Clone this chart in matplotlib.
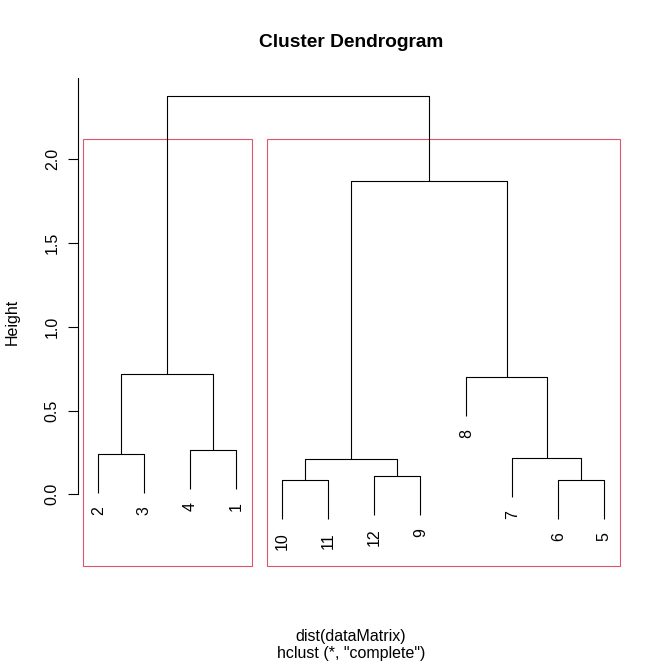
import matplotlib
matplotlib.use("Agg")
import matplotlib.pyplot as plt
import matplotlib.transforms as mtransforms
from matplotlib.patches import Rectangle

plt.rcParams["font.family"] = ["Liberation Sans", "DejaVu Sans"]

# Leaf labels in plotting order (left to right)
leaf_order = [2, 3, 4, 1, 10, 11, 12, 9, 8, 7, 6, 5]

# Merges in R hclust style: negative = observation, positive = earlier merge step
merge_a = [-10, -6, -12, 1, -7, -2, -4, -8, 6, 4, 9]
merge_b = [-11, -5, -9, 3, 2, -3, -1, 5, 7, 8, 10]
merge_height = [0.084, 0.084, 0.107, 0.209, 0.215, 0.239, 0.263, 0.698, 0.718, 1.869, 2.378]

y_ticks = [0.0, 0.5, 1.0, 1.5, 2.0]
n_clusters = 2

RED = "#DF536B"
LW = 0.8
DPI = 100
px = 72.0 / DPI  # points per pixel

fig = plt.figure(figsize=(6.64, 6.64), dpi=DPI)
ax = fig.add_axes([78.1 / 664, 1 - 566 / 664, 546.5 / 664, (566 - 78.3) / 664])

# x positions of leaves and merges
leaf_x = {obs: i + 1 for i, obs in enumerate(leaf_order)}
hang = 0.1 * (max(merge_height) - min(merge_height))

node_x = {}
node_size = {}


def child_pos(c, h):
    if c < 0:
        return leaf_x[-c], h - hang
    return node_x[c], merge_height[c - 1]


def child_size(c):
    return 1 if c < 0 else node_size[c]


label_offset = mtransforms.offset_copy(ax.transData, fig=fig, y=-13.3 * px, units="points")

for step, (a, b, h) in enumerate(zip(merge_a, merge_b, merge_height), start=1):
    xa, ya = child_pos(a, h)
    xb, yb = child_pos(b, h)
    ax.plot([xa, xa, xb, xb], [ya, h, h, yb], color="black", lw=LW,
            solid_capstyle="butt", clip_on=False)
    node_x[step] = (xa + xb) / 2
    node_size[step] = child_size(a) + child_size(b)
    for c, xc, yc in ((a, xa, ya), (b, xb, yb)):
        if c < 0:
            ax.text(xc, yc, str(-c), rotation=90, rotation_mode="anchor",
                    ha="right", va="center", fontsize=11.5,
                    transform=label_offset, clip_on=False)

ax.set_xlim(0.56, 12.44)
ax.set_ylim(-0.428, 2.4836)

# rect.hclust(k = 2)
top = len(merge_height)
sizes = [child_size(merge_a[top - 1]), child_size(merge_b[top - 1])]
rect_top = (merge_height[-1] + merge_height[-2]) / 2
ybot = ax.get_ylim()[0]
start = 0
for s in sizes:
    ax.add_patch(Rectangle((start + 0.66, ybot), s - 0.33, rect_top - ybot,
                           fill=False, edgecolor=RED, lw=LW, clip_on=False))
    start += s

for side in ("top", "right", "bottom"):
    ax.spines[side].set_visible(False)
ax.spines["left"].set_linewidth(LW)
ax.spines["left"].set_bounds(0, ax.get_ylim()[1])
ax.set_xticks([])
ax.set_yticks(y_ticks)
ax.set_yticklabels([f"{t:.1f}" for t in y_ticks], rotation=90, va="center", fontsize=11.5)
ax.tick_params(axis="y", length=10 * px, width=LW, pad=8.3 * px, direction="out")

ax.set_ylabel("Height", fontsize=11.5)
ax.yaxis.set_label_coords((19.5 - 78.1) / 546.5, 0.5)

fig.text(350.7 / 664, 1 - 46.7 / 664, "Cluster Dendrogram", ha="center", va="baseline",
         fontsize=13.8, fontweight="bold")
fig.text(350.7 / 664, 1 - 640.7 / 664, "dist(dataMatrix)", ha="center", va="baseline",
         fontsize=11.5)
fig.text(350.7 / 664, 1 - 658.2 / 664, 'hclust (*, "complete")', ha="center", va="baseline",
         fontsize=11.5)

fig.savefig("out.png", dpi=DPI)
